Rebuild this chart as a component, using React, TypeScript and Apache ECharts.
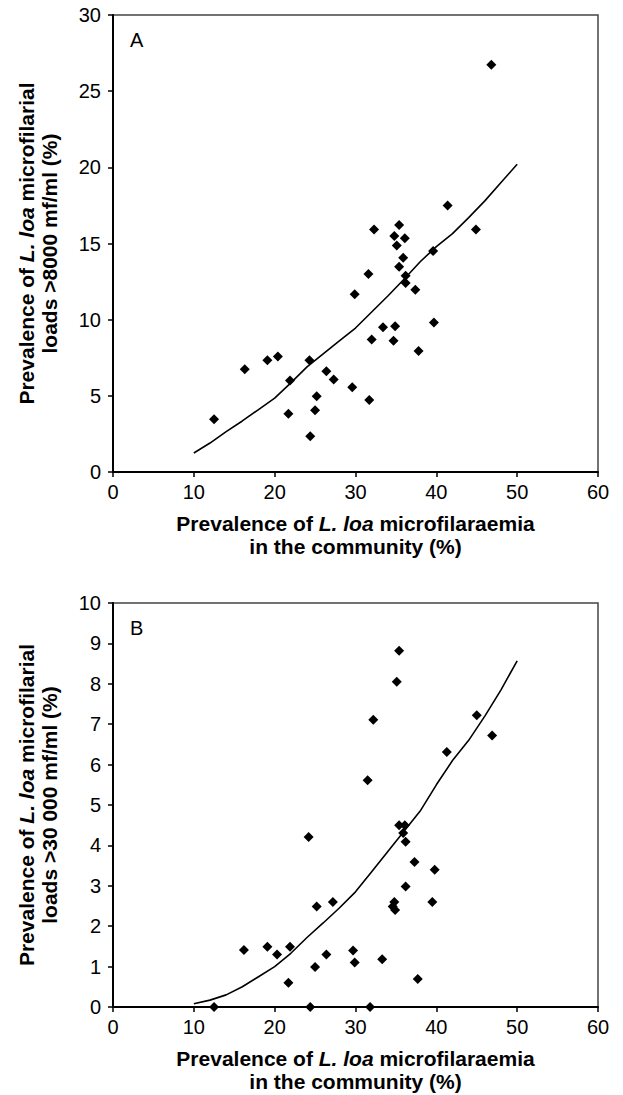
import React, { useEffect, useRef } from "react";
import * as echarts from "echarts";

// Panel A: prevalence of mf (x) vs prevalence of loads >8000 mf/ml (y)
const panelAX = [12.5, 16.3, 19.1, 20.4, 21.9, 21.7, 24.3, 24.4, 25.0, 25.2, 26.4, 27.3, 29.6, 29.9, 31.6, 31.7, 32.0, 33.4, 34.9, 34.7, 35.1, 35.4, 35.9, 36.2, 36.2, 37.4, 37.8, 39.6, 39.7, 32.3, 35.4, 34.8, 36.1, 41.4, 44.9, 46.8];
const panelAY = [3.46, 6.75, 7.34, 7.58, 6.0, 3.83, 7.34, 2.34, 4.05, 4.97, 6.61, 6.07, 5.56, 11.67, 13.0, 4.73, 8.69, 9.5, 9.57, 8.61, 14.87, 13.47, 14.06, 12.88, 12.4, 11.96, 7.95, 14.5, 9.81, 15.92, 16.21, 15.49, 15.34, 17.5, 15.92, 26.74];

// Panel B: prevalence of mf (x) vs prevalence of loads >30 000 mf/ml (y)
const panelBX = [12.5, 16.2, 19.1, 20.3, 21.9, 21.7, 24.2, 24.4, 25.0, 25.2, 26.4, 27.2, 29.7, 29.9, 31.5, 31.8, 33.3, 34.8, 34.6, 34.9, 35.4, 36.1, 35.9, 36.2, 36.2, 37.3, 37.7, 39.5, 39.8, 41.3, 35.4, 35.1, 32.2, 45.0, 46.9];
const panelBY = [0, 1.41, 1.49, 1.3, 1.49, 0.6, 4.21, 0, 0.99, 2.49, 1.3, 2.6, 1.4, 1.1, 5.61, 0, 1.18, 2.6, 2.49, 2.4, 4.5, 4.5, 4.31, 4.09, 2.98, 3.59, 0.69, 2.6, 3.4, 6.31, 8.82, 8.05, 7.11, 7.22, 6.72];

// Fitted curves
const fitX = [10, 12, 14, 16, 18, 20, 22, 24, 26, 28, 30, 32, 34, 36, 38, 40, 42, 44, 46, 48, 50];
const fitA = [1.25, 1.9, 2.65, 3.35, 4.1, 4.85, 5.85, 6.9, 7.75, 8.6, 9.45, 10.5, 11.55, 12.65, 13.8, 14.8, 15.65, 16.7, 17.8, 19.0, 20.2];
const fitB = [0.08, 0.17, 0.3, 0.5, 0.75, 1.0, 1.33, 1.72, 2.08, 2.45, 2.85, 3.35, 3.85, 4.35, 4.85, 5.5, 6.1, 6.6, 7.2, 7.85, 8.57];

const xTitle = "{b|Prevalence of }{bi|L. loa}{b| microfilaraemia}\n{b|in the community (%)}";
const yTitleA = "{b|Prevalence of }{bi|L. loa}{b| microfilarial}\n{b|loads >8000 mf/ml (%)}";
const yTitleB = "{b|Prevalence of }{bi|L. loa}{b| microfilarial}\n{b|loads >30 000 mf/ml (%)}";

const FONT = "'Liberation Sans', Arial, Helvetica, sans-serif";

export default function App() {
  const ref = useRef<HTMLDivElement>(null);

  useEffect(() => {
    if (!ref.current) return;
    const chart = echarts.init(ref.current, undefined, { renderer: "svg" });

    const rich = {
      b: { fontFamily: FONT, fontWeight: "bold", fontSize: 21, color: "#000", lineHeight: 23 },
      bi: { fontFamily: FONT, fontWeight: "bold", fontStyle: "italic", fontSize: 21, color: "#000", lineHeight: 23 },
    };

    const mkX = (gridIndex: number) => ({
      type: "value",
      gridIndex,
      min: 0,
      max: 60,
      interval: 10,
      name: xTitle,
      nameLocation: "middle",
      nameGap: 40,
      nameTextStyle: { rich, align: "center" },
      axisLine: { show: true, onZero: false, lineStyle: { color: "#000", width: 2 } },
      axisTick: { show: true, inside: false, length: 5, lineStyle: { color: "#000", width: 1.5 } },
      axisLabel: { color: "#000", fontSize: 20, fontFamily: FONT, margin: 10 },
      splitLine: { show: false },
    });

    const mkY = (gridIndex: number, max: number, interval: number, title: string) => ({
      type: "value",
      gridIndex,
      min: 0,
      max,
      interval,
      name: title,
      nameLocation: "middle",
      nameGap: 52,
      nameRotate: 90,
      nameTextStyle: { rich, align: "center" },
      axisLine: { show: true, onZero: false, lineStyle: { color: "#000", width: 2 } },
      axisTick: { show: true, inside: false, length: 5, lineStyle: { color: "#000", width: 1.5 } },
      axisLabel: { color: "#000", fontSize: 20, fontFamily: FONT, margin: 12 },
      splitLine: { show: false },
    });

    const zip = (xs: number[], ys: number[]) => xs.map((x, i) => [x, ys[i]]);

    chart.setOption({
      animation: false,
      backgroundColor: "#fff",
      grid: [
        { left: 113, top: 15, width: 485, height: 457, show: true, borderColor: "#444", borderWidth: 1.5, backgroundColor: "transparent" },
        { left: 113, top: 603, width: 485, height: 404, show: true, borderColor: "#444", borderWidth: 1.5, backgroundColor: "transparent" },
      ],
      xAxis: [mkX(0), mkX(1)],
      yAxis: [mkY(0, 30, 5, yTitleA), mkY(1, 10, 1, yTitleB)],
      graphic: [
        { type: "text", left: 130, top: 30, style: { text: "A", fontSize: 20, fontFamily: FONT, fill: "#000" } },
        { type: "text", left: 130, top: 618, style: { text: "B", fontSize: 20, fontFamily: FONT, fill: "#000" } },
      ],
      series: [
        {
          type: "scatter",
          xAxisIndex: 0,
          yAxisIndex: 0,
          data: zip(panelAX, panelAY),
          symbol: "diamond",
          symbolSize: 10,
          clip: false,
          itemStyle: { color: "#000", opacity: 1 },
        },
        {
          type: "line",
          xAxisIndex: 0,
          yAxisIndex: 0,
          data: zip(fitX, fitA),
          showSymbol: false,
          symbol: "none",
          lineStyle: { color: "#000", width: 1.6 },
        },
        {
          type: "scatter",
          xAxisIndex: 1,
          yAxisIndex: 1,
          data: zip(panelBX, panelBY),
          symbol: "diamond",
          symbolSize: 10,
          clip: false,
          itemStyle: { color: "#000", opacity: 1 },
        },
        {
          type: "line",
          xAxisIndex: 1,
          yAxisIndex: 1,
          data: zip(fitX, fitB),
          showSymbol: false,
          symbol: "none",
          lineStyle: { color: "#000", width: 1.6 },
        },
      ],
    });

    return () => chart.dispose();
  }, []);

  return (
    <div
      ref={ref}
      style={{ position: "absolute", left: 0, top: 0, width: 623, height: 1095, background: "#fff" }}
    />
  );
}
